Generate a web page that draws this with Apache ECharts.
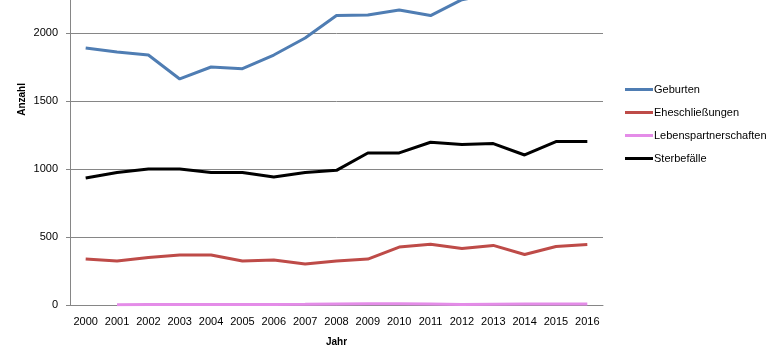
<!DOCTYPE html>
<html>
<head>
<meta charset="utf-8">
<script src="https://cdn.jsdelivr.net/npm/echarts@6/dist/echarts.min.js"></script>
<style>
  html, body { margin: 0; padding: 0; background: #fff; overflow: hidden; }
  /* chart is taller than the window and shifted up, so the top is cropped like the reference */
  #chart { width: 780px; height: 385px; margin-top: -35px; }
</style>
</head>
<body>
<div id="chart"></div>
<script>
var jahre = ['2000','2001','2002','2003','2004','2005','2006','2007','2008','2009','2010','2011','2012','2013','2014','2015','2016'];
var geburten = [1890, 1860, 1838, 1662, 1750, 1738, 1838, 1963, 2128, 2132, 2169, 2128, 2245, 2290, 2330, 2360, 2400];
var ehe = [338, 324, 350, 368, 368, 324, 331, 301, 324, 338, 426, 447, 415, 438, 371, 430, 445];
var lebenspartner = [null, 2, 3, 3, 4, 4, 4, 5, 8, 9, 9, 8, 3, 6, 7, 7, 7];
var sterbe = [934, 975, 1000, 1000, 975, 975, 941, 975, 990, 1118, 1118, 1197, 1180, 1187, 1103, 1202, 1202];

window.onload = function () {
  var chart = echarts.init(document.getElementById('chart'));
  var font = 'Liberation Sans, Arial, sans-serif';

  var option = {
    animation: false,
    textStyle: { fontFamily: font },
    legend: {
      orient: 'vertical',
      left: 620,
      top: 79 + 35,
      itemWidth: 28,
      itemHeight: 3,
      itemGap: 12,
      icon: 'rect',
      textStyle: { fontSize: 11, color: '#000', padding: [0, 0, 0, -4] },
      data: ['Geburten', 'Eheschließungen', 'Lebenspartnerschaften', 'Sterbefälle']
    },
    grid: { left: 70, right: 177, top: 0, bottom: 45, outerBoundsMode: 'none' },
    xAxis: {
      type: 'category',
      data: jahre,
      boundaryGap: true,
      name: 'Jahr',
      nameLocation: 'middle',
      nameGap: 32,
      nameTextStyle: { fontWeight: 'bold', fontSize: 10, color: '#000' },
      axisLine: { lineStyle: { color: '#868686' } },
      axisTick: { length: 5, lineStyle: { color: '#868686' } },
      axisLabel: { fontSize: 11, color: '#000', margin: 11, interval: 0 }
    },
    yAxis: {
      type: 'value',
      min: 0,
      max: 2500,
      interval: 500,
      axisLine: { show: true, lineStyle: { color: '#868686' } },
      axisTick: { show: true, length: 4, lineStyle: { color: '#868686' } },
      axisLabel: { fontSize: 11, color: '#000', margin: 12, formatter: function (v) { return String(v); } },
      splitLine: { lineStyle: { color: '#868686' } }
    },
    graphic: [{
      type: 'text',
      left: 17,
      top: 83 + 35,
      rotation: Math.PI / 2,
      style: { text: 'Anzahl', font: 'bold 10px ' + font, fill: '#000' }
    }],
    series: [
      { name: 'Geburten', type: 'line', data: geburten, symbol: 'none',
        lineStyle: { width: 3, color: '#4F7DB3' }, itemStyle: { color: '#4F7DB3' } },
      { name: 'Eheschließungen', type: 'line', data: ehe, symbol: 'none',
        lineStyle: { width: 3, color: '#BE4B48' }, itemStyle: { color: '#BE4B48' } },
      { name: 'Lebenspartnerschaften', type: 'line', data: lebenspartner, symbol: 'none',
        lineStyle: { width: 3, color: '#E48CE8' }, itemStyle: { color: '#E48CE8' } },
      { name: 'Sterbefälle', type: 'line', data: sterbe, symbol: 'none',
        lineStyle: { width: 3, color: '#000' }, itemStyle: { color: '#000' } }
    ]
  };

  chart.setOption(option);
};
</script>
</body>
</html>
